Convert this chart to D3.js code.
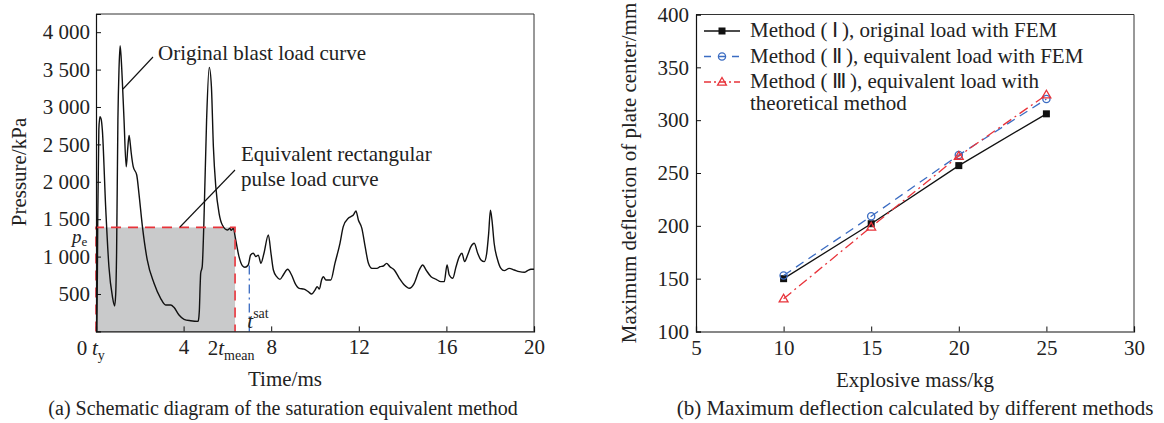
<!DOCTYPE html>
<html>
<head>
<meta charset="utf-8">
<script src="https://cdn.jsdelivr.net/npm/d3@7"></script>
<style>
  html, body { margin: 0; padding: 0; background: #fff; }
  svg text { font-family: "Liberation Serif", "Times New Roman", serif; fill: #222; }
</style>
</head>
<body>
<svg id="chart" width="1164" height="423"></svg>
<script>
// ---- Panel (a): blast pressure history ----
const timeMs = [0, 0.04, 0.08, 0.13, 0.18, 0.24, 0.29, 0.44, 0.59, 0.75, 0.85, 0.9, 0.94, 1.0, 1.05, 1.10, 1.15, 1.20, 1.28, 1.38, 1.45, 1.51, 1.56, 1.61, 1.70, 1.86, 1.96, 2.12, 2.34, 2.65, 2.95, 3.18, 3.41, 3.56, 3.79, 4.02, 4.32, 4.66, 4.70, 4.72, 4.76, 4.78, 4.85, 4.93, 5.05, 5.17, 5.27, 5.36, 5.47, 5.62, 5.77, 6.0, 6.12, 6.17, 6.27, 6.38, 6.53, 6.68, 6.80, 6.95, 7.06, 7.18, 7.30, 7.41, 7.53, 7.67, 7.87, 7.99, 8.10, 8.25, 8.40, 8.55, 8.75, 8.93, 9.09, 9.28, 9.50, 9.69, 9.85, 10.0, 10.1, 10.2, 10.3, 10.38, 10.50, 10.72, 10.91, 11.14, 11.29, 11.52, 11.64, 11.75, 11.87, 11.98, 12.14, 12.29, 12.44, 12.60, 12.83, 12.97, 13.12, 13.27, 13.42, 13.62, 13.85, 14.08, 14.31, 14.53, 14.76, 14.92, 15.07, 15.30, 15.53, 15.75, 15.90, 16.03, 16.13, 16.29, 16.44, 16.59, 16.71, 16.83, 16.97, 17.12, 17.27, 17.43, 17.58, 17.73, 17.84, 17.93, 18.01, 18.08, 18.18, 18.34, 18.49, 18.64, 18.87, 19.10, 19.33, 19.56, 19.71, 19.86, 20];
const pressureKPa = [0, 0, 1500, 2700, 2870, 2830, 2690, 1670, 865, 464, 340, 500, 1044, 2826, 3500, 3820, 3650, 3361, 2826, 2200, 2450, 2620, 2520, 2381, 2202, 2091, 1846, 1400, 955, 643, 442, 353, 353, 322, 219, 162, 143, 134, 200, 286, 650, 777, 865, 1489, 2826, 3530, 3271, 2469, 1935, 1579, 1422, 1356, 1378, 1350, 1378, 1222, 999, 880, 857, 888, 1021, 1044, 1000, 1020, 910, 1044, 1290, 1044, 821, 731, 696, 754, 830, 754, 643, 576, 566, 531, 500, 553, 598, 566, 687, 731, 687, 687, 910, 1178, 1400, 1512, 1534, 1556, 1610, 1490, 1378, 1133, 910, 843, 843, 865, 874, 910, 865, 821, 710, 620, 576, 643, 821, 888, 821, 731, 696, 665, 665, 888, 754, 710, 865, 999, 1044, 933, 1021, 1133, 1178, 1044, 955, 933, 1044, 1311, 1620, 1490, 1178, 955, 843, 813, 843, 821, 799, 790, 813, 830, 830];

const pressureTicks = [500, 1000, 1500, 2000, 2500, 3000, 3500, 4000];
const timeTicks = [4, 8, 12, 16, 20];
const equivPressure = 1390;   // p_e
const equivDuration = 6.35;   // 2 t_mean
const saturationTime = 7.0;   // t_sat

// ---- Panel (b): maximum deflection vs explosive mass ----
const massKg = [10, 15, 20, 25];
const deflMethod1 = [150, 202, 257, 306];
const deflMethod2 = [153, 209, 267, 320];
const deflMethod3 = [131, 199, 266, 324];
const massTicks = [5, 10, 15, 20, 25, 30];
const deflTicks = [100, 150, 200, 250, 300, 350, 400];
const legendLabels = [
  ["Method (\u2009Ⅰ\u2009), original load with FEM"],
  ["Method (\u2009Ⅱ\u2009), equivalent load with FEM"],
  ["Method (\u2009Ⅲ\u2009), equivalent load with", "theoretical method"]
];

const svg = d3.select("#chart");
const FS = 21;

// ================= Panel (a) =================
const A = { left: 96, right: 534, top: 14, bottom: 331.4 };
const xA = d3.scaleLinear().domain([0, 20]).range([A.left, A.right]);
const yA = d3.scaleLinear().domain([0, 4243]).range([A.bottom, A.top]);
const gA = svg.append("g");

// equivalent rectangular pulse (shaded)
gA.append("rect")
  .attr("x", xA(0)).attr("y", yA(equivPressure))
  .attr("width", xA(equivDuration) - xA(0))
  .attr("height", yA(0) - yA(equivPressure))
  .attr("fill", "#c9cacb");

// frame top/right
gA.append("path")
  .attr("d", `M${A.left},${A.top}H${A.right}V${A.bottom}`)
  .attr("fill", "none").attr("stroke", "#333").attr("stroke-width", 1);

// original blast load curve
const line = d3.line().x((d, i) => xA(timeMs[i])).y(d => yA(d)).curve(d3.curveMonotoneX);
gA.append("path").datum(pressureKPa)
  .attr("d", line)
  .attr("fill", "none").attr("stroke", "#111").attr("stroke-width", 1.4);

// rectangular pulse outline
gA.append("path")
  .attr("d", `M${xA(0)},${yA(0)}V${yA(equivPressure)}H${xA(equivDuration)}V${yA(0)}`)
  .attr("fill", "none").attr("stroke", "#e8333a").attr("stroke-width", 1.6)
  .attr("stroke-dasharray", "10,7");

// saturation time marker
function interpP(t) {
  const i = d3.bisectLeft(timeMs, t);
  const t0 = timeMs[i - 1], t1 = timeMs[i];
  return pressureKPa[i - 1] + (pressureKPa[i] - pressureKPa[i - 1]) * (t - t0) / (t1 - t0);
}
gA.append("line")
  .attr("x1", xA(saturationTime)).attr("x2", xA(saturationTime))
  .attr("y1", yA(0)).attr("y2", yA(interpP(saturationTime)) + 4)
  .attr("stroke", "#3b6cc2").attr("stroke-width", 1.3)
  .attr("stroke-dasharray", "9,4,2,4");

// axes
const axLeftA = d3.axisLeft(yA).tickValues(pressureTicks).tickSize(-5).tickPadding(6)
  .tickFormat(d => d >= 1000 ? `${Math.floor(d / 1000)} ${String(d % 1000).padStart(3, "0")}` : d);
const gYA = gA.append("g").attr("transform", `translate(${A.left},0)`).call(axLeftA);
const axBottomA = d3.axisBottom(xA).tickValues(timeTicks).tickSize(-5).tickPadding(8);
const gXA = gA.append("g").attr("transform", `translate(0,${A.bottom})`).call(axBottomA);
[gYA, gXA].forEach(g => {
  g.select(".domain").attr("stroke", "#111").attr("stroke-width", 1.2);
  g.selectAll(".tick line").attr("stroke", "#111");
  g.selectAll(".tick text").attr("font-size", FS).attr("fill", "#222").attr("font-family", "Liberation Serif");
});
gXA.selectAll(".tick text").attr("dy", null).attr("y", 23);

// special x-axis labels
gA.append("text").attr("x", 82).attr("y", 355).attr("text-anchor", "middle").attr("font-size", FS).text("0");
const ty = gA.append("text").attr("x", 92).attr("y", 355).attr("font-size", FS);
ty.append("tspan").attr("font-style", "italic").text("t");
ty.append("tspan").attr("font-size", 14).attr("dy", 5).text("y");
const tm = gA.append("text").attr("x", xA(equivDuration) - 4).attr("y", 355).attr("text-anchor", "middle").attr("font-size", FS);
tm.append("tspan").text("2");
tm.append("tspan").attr("font-style", "italic").text("t");
tm.append("tspan").attr("font-size", 14).attr("dy", 5).text("mean");
const ts = gA.append("text").attr("x", xA(saturationTime) - 2).attr("y", 328).attr("font-size", FS);
ts.append("tspan").attr("font-style", "italic").text("t");
ts.append("tspan").attr("font-size", 14).attr("dy", -10).text("sat");
const pe = gA.append("text").attr("x", 72).attr("y", 243).attr("font-size", 19);
pe.append("tspan").attr("font-style", "italic").text("p");
pe.append("tspan").attr("font-size", 13).attr("dy", 3).text("e");

// annotations
gA.append("line").attr("x1", 123).attr("y1", 89).attr("x2", 153).attr("y2", 57).attr("stroke", "#111").attr("stroke-width", 1.1);
gA.append("text").attr("x", 158).attr("y", 60).attr("font-size", FS).text("Original blast load curve");
gA.append("line").attr("x1", 180).attr("y1", 227).attr("x2", 235).attr("y2", 170).attr("stroke", "#111").attr("stroke-width", 1.1);
gA.append("text").attr("x", 241).attr("y", 161).attr("font-size", FS).text("Equivalent rectangular");
gA.append("text").attr("x", 241).attr("y", 186).attr("font-size", FS).text("pulse load curve");

// titles
gA.append("text").attr("transform", `translate(26,172) rotate(-90)`).attr("text-anchor", "middle").attr("font-size", FS).text("Pressure/kPa");
gA.append("text").attr("x", 285).attr("y", 386).attr("text-anchor", "middle").attr("font-size", FS).text("Time/ms");
gA.append("text").attr("x", 283).attr("y", 415).attr("text-anchor", "middle").attr("font-size", 20).text("(a) Schematic diagram of the saturation equivalent method");

// ================= Panel (b) =================
const B = { left: 696, right: 1134, top: 14.5, bottom: 331.5 };
const xB = d3.scaleLinear().domain([5, 30]).range([B.left, B.right]);
const yB = d3.scaleLinear().domain([100, 400]).range([B.bottom, B.top]);
const gB = svg.append("g");

gB.append("path")
  .attr("d", `M${B.left},${B.top}H${B.right}V${B.bottom}`)
  .attr("fill", "none").attr("stroke", "#333").attr("stroke-width", 1);

const axLeftB = d3.axisLeft(yB).tickValues(deflTicks).tickSize(-5).tickPadding(7);
const gYB = gB.append("g").attr("transform", `translate(${B.left},0)`).call(axLeftB);
const axBottomB = d3.axisBottom(xB).tickValues(massTicks).tickSize(-5).tickPadding(8);
const gXB = gB.append("g").attr("transform", `translate(0,${B.bottom})`).call(axBottomB);
[gYB, gXB].forEach(g => {
  g.select(".domain").attr("stroke", "#111").attr("stroke-width", 1.2);
  g.selectAll(".tick line").attr("stroke", "#111");
  g.selectAll(".tick text").attr("font-size", FS).attr("fill", "#222").attr("font-family", "Liberation Serif");
});
gXB.selectAll(".tick text").attr("dy", null).attr("y", 23);

const series = [
  { values: deflMethod1, color: "#111", dash: null, marker: "square" },
  { values: deflMethod2, color: "#3b6cc2", dash: "9,6", marker: "circle" },
  { values: deflMethod3, color: "#e8333a", dash: "10,4,2,4", marker: "triangle" }
];
const lineB = d3.line().x((d, i) => xB(massKg[i])).y(d => yB(d));

function drawMarker(g, type, x, y, color) {
  if (type === "square") {
    g.append("rect").attr("x", x - 3.5).attr("y", y - 3.5).attr("width", 7).attr("height", 7).attr("fill", color);
  } else if (type === "circle") {
    g.append("circle").attr("cx", x).attr("cy", y).attr("r", 3.6).attr("fill", "none").attr("stroke", color).attr("stroke-width", 1.3);
  } else {
    const sym = d3.symbol().type(d3.symbolTriangle).size(34);
    g.append("path").attr("d", sym()).attr("transform", `translate(${x},${y + 0.6})`)
      .attr("fill", "none").attr("stroke", color).attr("stroke-width", 1.3);
  }
}

series.forEach(s => {
  gB.append("path").datum(s.values).attr("d", lineB)
    .attr("fill", "none").attr("stroke", s.color).attr("stroke-width", 1.3)
    .attr("stroke-dasharray", s.dash);
  s.values.forEach((v, i) => drawMarker(gB, s.marker, xB(massKg[i]), yB(v), s.color));
});

// legend
const legendY = [37, 62.5, 88];
series.forEach((s, i) => {
  const my = legendY[i] - 6;
  gB.append("line").attr("x1", 704).attr("x2", 740).attr("y1", my).attr("y2", my)
    .attr("stroke", s.color).attr("stroke-width", 1.3)
    .attr("stroke-dasharray", s.dash ? (i === 1 ? "7,7" : "7,3,2,3") : null);
  drawMarker(gB, s.marker, 722, my, s.color);
  legendLabels[i].forEach((t, j) => {
    gB.append("text").attr("x", 750).attr("y", legendY[i] + j * 22).attr("font-size", FS).text(t);
  });
});

gB.append("text").attr("transform", `translate(636,173) rotate(-90)`).attr("text-anchor", "middle").attr("font-size", FS).text("Maximum deflection of plate center/mm");
gB.append("text").attr("x", 915).attr("y", 387).attr("text-anchor", "middle").attr("font-size", FS).text("Explosive mass/kg");
gB.append("text").attr("x", 915).attr("y", 415).attr("text-anchor", "middle").attr("font-size", 21).text("(b) Maximum deflection calculated by different methods");
</script>
</body>
</html>
